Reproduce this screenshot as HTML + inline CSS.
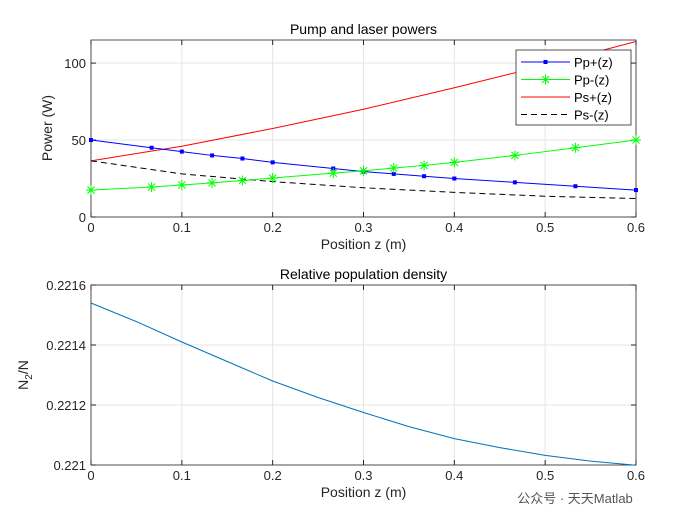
<!DOCTYPE html>
<html><head><meta charset="utf-8"><style>
body{margin:0;background:#fff;}
svg text{font-family:"Liberation Sans","Noto Sans CJK SC",sans-serif;}
</style></head><body>
<svg id="c" width="700" height="525" xmlns="http://www.w3.org/2000/svg"></svg>
<script>
const xTicks=[0,0.1,0.2,0.3,0.4,0.5,0.6];
const yTicksTop=[0,50,100];
const yTicksBot=[0.221,0.2212,0.2214,0.2216];
const yTickLabelsBot=['0.221','0.2212','0.2214','0.2216'];
const zPump=[0,0.0667,0.1,0.1333,0.1667,0.2,0.2667,0.3,0.3333,0.3667,0.4,0.4667,0.5333,0.6];
const ppPlus=[50,45,42.5,40,38,35.5,31.5,29.5,28,26.5,25,22.5,20,17.5];
const ppMinus=[17.5,19.5,20.8,22.2,23.7,25.3,28.5,30,31.8,33.5,35.5,40,45,50];
const zSig=[0,0.1,0.2,0.3,0.4,0.5,0.6];
const psPlus=[36.5,46,57.5,70,84,98.5,114];
const psMinus=[36.5,28,23,19,16,13.5,12];
const zN=[0,0.05,0.1,0.15,0.2,0.25,0.3,0.35,0.4,0.45,0.5,0.55,0.6];
const n2=[0.22154,0.221478,0.22141,0.221345,0.22128,0.221225,0.221175,0.221128,0.221088,0.221058,0.221032,0.221013,0.220999];

const S='http://www.w3.org/2000/svg',svg=document.getElementById('c');
function el(t,a,p){const e=document.createElementNS(S,t);for(const k in a)e.setAttribute(k,a[k]);(p||svg).appendChild(e);return e;}
const L=91,R=636;
const xs=v=>L+(R-L)*v/0.6;
const ysT=v=>217-(217-40)*v/115;
const ysB=v=>465-(465-285)*(v-0.221)/0.0006;
function axes(top,bot,yt,ylab,ys,title,name){
  const g=el('g',{});
  
  
  el('rect',{x:L,y:top,width:R-L,height:bot-top,fill:'#fff'},g);
  xTicks.forEach(v=>{el('line',{x1:xs(v),x2:xs(v),y1:top,y2:bot,stroke:'#e5e5e5'},g);});
  yt.forEach(v=>{el('line',{x1:L,x2:R,y1:ys(v),y2:ys(v),stroke:'#e5e5e5'},g);});
  el('rect',{x:L,y:top,width:R-L,height:bot-top,fill:'none',stroke:'#262626','stroke-width':0.8},g);
  xTicks.forEach(v=>{el('line',{x1:xs(v),x2:xs(v),y1:bot,y2:bot-5,stroke:'#262626'},g);el('line',{x1:xs(v),x2:xs(v),y1:top,y2:top+5,stroke:'#262626'},g);
    const t=el('text',{x:xs(v),y:bot+15,'text-anchor':'middle','font-size':13,fill:'#262626'},g);t.textContent=String(v);});
  yt.forEach((v,i)=>{el('line',{x1:L,x2:L+5,y1:ys(v),y2:ys(v),stroke:'#262626'},g);el('line',{x1:R,x2:R-5,y1:ys(v),y2:ys(v),stroke:'#262626'},g);
    const t=el('text',{x:L-5,y:ys(v)+5,'text-anchor':'end','font-size':13,fill:'#262626'},g);t.textContent=ylab[i];});
  const tt=el('text',{x:(L+R)/2,y:top-6,'text-anchor':'middle','font-size':14,fill:'#000'},g);tt.textContent=title;
  const xl=el('text',{x:(L+R)/2,y:bot+32,'text-anchor':'middle','font-size':14,fill:'#262626'},g);xl.textContent='Position z (m)';
  return g;
}
function line(xa,ya,ys,attrs,name){const p=el('polyline',Object.assign({points:xa.map((x,i)=>xs(x)+','+ys(ya[i])).join(' '),fill:'none'},attrs));return p;}
function star(x,y,c,g){for(let a=0;a<4;a++){const an=a*Math.PI/4;el('line',{x1:x-5*Math.cos(an),y1:y-5*Math.sin(an),x2:x+5*Math.cos(an),y2:y+5*Math.sin(an),stroke:c,'stroke-width':1},g);}}

// top
axes(40,217,yTicksTop,yTicksTop.map(String),ysT,'Pump and laser powers','top-axes');
const yl=el('text',{transform:'translate(52,128) rotate(-90)','text-anchor':'middle','font-size':14,fill:'#262626'});yl.textContent='Power (W)';

line(zSig,psPlus,ysT,{stroke:'#ff0000','stroke-width':1},'ps-plus-line');
line(zSig,psMinus,ysT,{stroke:'#000','stroke-width':1,'stroke-dasharray':'6,4'},'ps-minus-line');
line(zPump,ppPlus,ysT,{stroke:'#0000ff','stroke-width':1},'pp-plus-line');
zPump.forEach((z,i)=>{const r=el('rect',{x:xs(z)-2,y:ysT(ppPlus[i])-2,width:4,height:4,fill:'#0000ff'});});
line(zPump,ppMinus,ysT,{stroke:'#00ff00','stroke-width':1},'pp-minus-line');
zPump.forEach((z,i)=>{const g=el('g',{});star(xs(z),ysT(ppMinus[i]),'#00ff00',g);});
// legend
const lg=el('g',{});
el('rect',{x:516,y:50,width:115,height:75,fill:'#fff',stroke:'#262626','stroke-width':0.8},lg);
const le=[['Pp+(z)','#0000ff','sq'],['Pp-(z)','#00ff00','st'],['Ps+(z)','#ff0000',''],['Ps-(z)','#000','d']];
le.forEach((e,i)=>{const y=62+i*17.5;const gg=el('g',{},lg);
  el('line',Object.assign({x1:521,x2:570,y1:y,y2:y,stroke:e[1]},e[2]=='d'?{'stroke-dasharray':'6,4'}:{}),gg);
  if(e[2]=='sq')el('rect',{x:543.5,y:y-2,width:4,height:4,fill:e[1]},gg);
  if(e[2]=='st')star(545.5,y,e[1],gg);
  const t=el('text',{x:574,y:y+5,'font-size':13,fill:'#000'},gg);t.textContent=e[0];});

// bottom
axes(285,465,yTicksBot,yTickLabelsBot,ysB,'Relative population density','bottom-axes');
const yl2=el('text',{transform:'translate(28,375) rotate(-90)','text-anchor':'middle','font-size':14,fill:'#262626'});
yl2.innerHTML='N<tspan dy="4" font-size="10">2</tspan><tspan dy="-4">/N</tspan>';

line(zN,n2,ysB,{stroke:'#0072bd','stroke-width':1},'n2-line');
const wm=el('text',{x:575,y:503,'text-anchor':'middle','font-size':13,fill:'#555'});wm.textContent='公众号 · 天天Matlab';

</script>
</body></html>
